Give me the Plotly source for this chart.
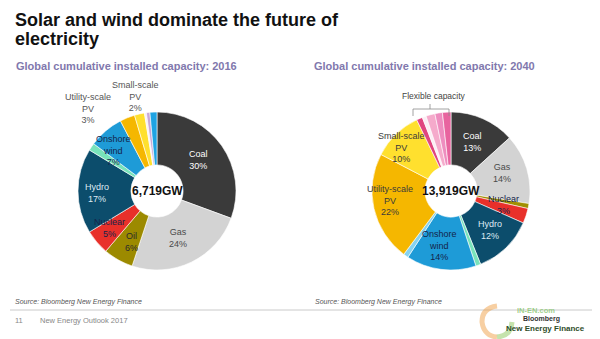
import plotly.graph_objects as go

W, H = 600, 339

# ---- data -------------------------------------------------------------
labels_2016 = ["Coal", "Gas", "Oil", "Nuclear", "Hydro", "Other",
               "Onshore wind", "Utility-scale PV", "Small-scale PV",
               "Flexible capacity A", "Flexible capacity B", "Offshore wind"]
values_2016 = [30, 24, 6, 5, 17, 1.5, 7, 3, 2, 0.4, 0.7, 1.4]
colors_2016 = ["#3a3a3a", "#d3d3d3", "#9c8a00", "#e8302a", "#0c4d6c", "#78e3bb",
               "#1e9bd7", "#f5b700", "#ffe02e", "#f6f0f6", "#c8a8d6", "#1fa3e2"]

labels_2040 = ["Coal", "Gas", "Oil", "Nuclear", "Hydro", "Other",
               "Onshore wind", "Offshore wind", "Utility-scale PV", "Small-scale PV",
               "Flex 1", "Flex 2", "Flex 3", "Flex 4", "Flex 5"]
values_2040 = [13, 14, 1, 3, 12, 1, 14, 1, 22, 10, 1.2, 0.8, 1.8, 1.5, 1.7]
colors_2040 = ["#3a3a3a", "#d3d3d3", "#a08f00", "#e8302a", "#0c4d6c", "#78e3bb",
               "#1e9bd7", "#86d3ef", "#f5b700", "#ffe02e",
               "#e0457f", "#fbeef4", "#f5aacb", "#ee8dbf", "#e8649f"]

total_2016 = "6,719GW"
total_2040 = "13,919GW"

# slice captions: (label, value, x px, y px, colour)
captions_2016 = [
    ("Coal", 30, 198, 160, "#ffffff"),
    ("Gas", 24, 178, 238, "#4a4a4a"),
    ("Oil", 6, 131, 242, "#2b2b2b"),
    ("Nuclear", 5, 110, 228, "#14244a"),
    ("Hydro", 17, 97, 193, "#dfeaf3"),
    ("Onshore<br>wind", 7, 113, 150, "#14244a"),
    ("Utility-scale<br>PV", 3, 88, 108, "#555555"),
    ("Small-scale<br>PV", 2, 135, 97, "#555555"),
]
captions_2040 = [
    ("Coal", 13, 472, 142, "#ffffff"),
    ("Gas", 14, 502, 173, "#4a4a4a"),
    ("Nuclear", 3, 503, 205, "#14244a"),
    ("Hydro", 12, 490, 230, "#dfeaf3"),
    ("Onshore<br>wind", 14, 440, 245, "#14244a"),
    ("Utility-scale<br>PV", 22, 390, 200, "#3a3a3a"),
    ("Small-scale<br>PV", 10, 401, 147, "#3a3a3a"),
]


def px(x):
    return x / W


def py(y):
    return 1 - y / H


FONT = "Liberation Sans, Arial, sans-serif"

fig = go.Figure()

# ---- donuts -----------------------------------------------------------
for labels, values, colors, (x0, x1) in [
    (labels_2016, values_2016, colors_2016, (78, 236)),
    (labels_2040, values_2040, colors_2040, (372, 530)),
]:
    fig.add_trace(go.Pie(
        labels=labels, values=values, sort=False, direction="clockwise",
        rotation=0, hole=0.33, textinfo="none",
        marker=dict(colors=colors, line=dict(color="#ffffff", width=0.6)),
        domain=dict(x=[px(x0), px(x1)], y=[py(270), py(112)]),
        showlegend=False, hoverinfo="label+value",
    ))

ann = []


def text(x, y, s, size, color, bold=False, italic=False, xanchor="center", family=FONT):
    if bold:
        s = f"<b>{s}</b>"
    if italic:
        s = f"<i>{s}</i>"
    ann.append(dict(x=px(x), y=py(y), xref="paper", yref="paper", text=s,
                    showarrow=False, xanchor=xanchor, yanchor="middle",
                    font=dict(size=size, color=color, family=family)))


# titles
text(13, 20, "Solar and wind dominate the future of", 18, "#111111", bold=True, xanchor="left")
text(13, 39, "electricity", 18, "#111111", bold=True, xanchor="left")
text(14, 66, "Global cumulative installed capacity: 2016", 11, "#8178ad", bold=True, xanchor="left")
text(312, 66, "Global cumulative installed capacity: 2040", 11, "#8178ad", bold=True, xanchor="left")

# slice captions
for caps in (captions_2016, captions_2040):
    for name, val, x, y, c in caps:
        text(x, y, f"{name}<br>{val}%", 9, c)

# totals in the holes
text(157, 191, total_2016, 12, "#111111", bold=True)
text(451, 191, total_2040, 12, "#111111", bold=True)

# flexible capacity bracket and label
text(434, 96, "Flexible capacity", 8.5, "#444444")
shapes = [dict(type="path", xref="paper", yref="paper",
               path=f"M {px(413)},{py(116)} L {px(413)},{py(109)} L {px(449)},{py(109)} L {px(449)},{py(116)}",
               line=dict(color="#8a8a8a", width=0.8)),
          dict(type="line", xref="paper", yref="paper",
               x0=px(430), x1=px(430), y0=py(109), y1=py(104),
               line=dict(color="#8a8a8a", width=0.8))]

# footer
text(13, 302, "Source: Bloomberg New Energy Finance", 7, "#555555", italic=True, xanchor="left")
text(313, 302, "Source: Bloomberg New Energy Finance", 7, "#555555", italic=True, xanchor="left")
shapes.append(dict(type="line", xref="paper", yref="paper",
                   x0=px(10), x1=px(592), y0=py(310), y1=py(310),
                   line=dict(color="#bdbdbd", width=0.8)))
text(13, 320, "11", 7.5, "#888888", xanchor="left")
text(38, 320, "New Energy Outlook 2017", 7.5, "#888888", xanchor="left")

# corner logo
shapes.append(dict(type="path", xref="paper", yref="paper",
                   path=(f"M {px(497)},{py(306)} Q {px(482)},{py(308)} {px(482)},{py(322)} "
                         f"Q {px(484)},{py(336)} {px(497)},{py(337)}"),
                   line=dict(color="rgba(240,160,70,0.5)", width=5)))
shapes.append(dict(type="path", xref="paper", yref="paper",
                   path=(f"M {px(497)},{py(337)} Q {px(511)},{py(336)} {px(512)},{py(322)}"),
                   line=dict(color="rgba(140,200,90,0.5)", width=5)))
text(536, 310, "IN-EN.com", 7.5, "rgba(120,190,90,0.7)", bold=True)
text(541, 319, "Bloomberg", 7, "#333333", bold=True)
text(545, 328, "New Energy Finance", 8, "#2f4d2a", bold=True)

fig.update_layout(
    width=W, height=H, margin=dict(l=0, r=0, t=0, b=0),
    paper_bgcolor="#ffffff", plot_bgcolor="#ffffff",
    annotations=ann, shapes=shapes,
)

fig.write_html("out.html")
